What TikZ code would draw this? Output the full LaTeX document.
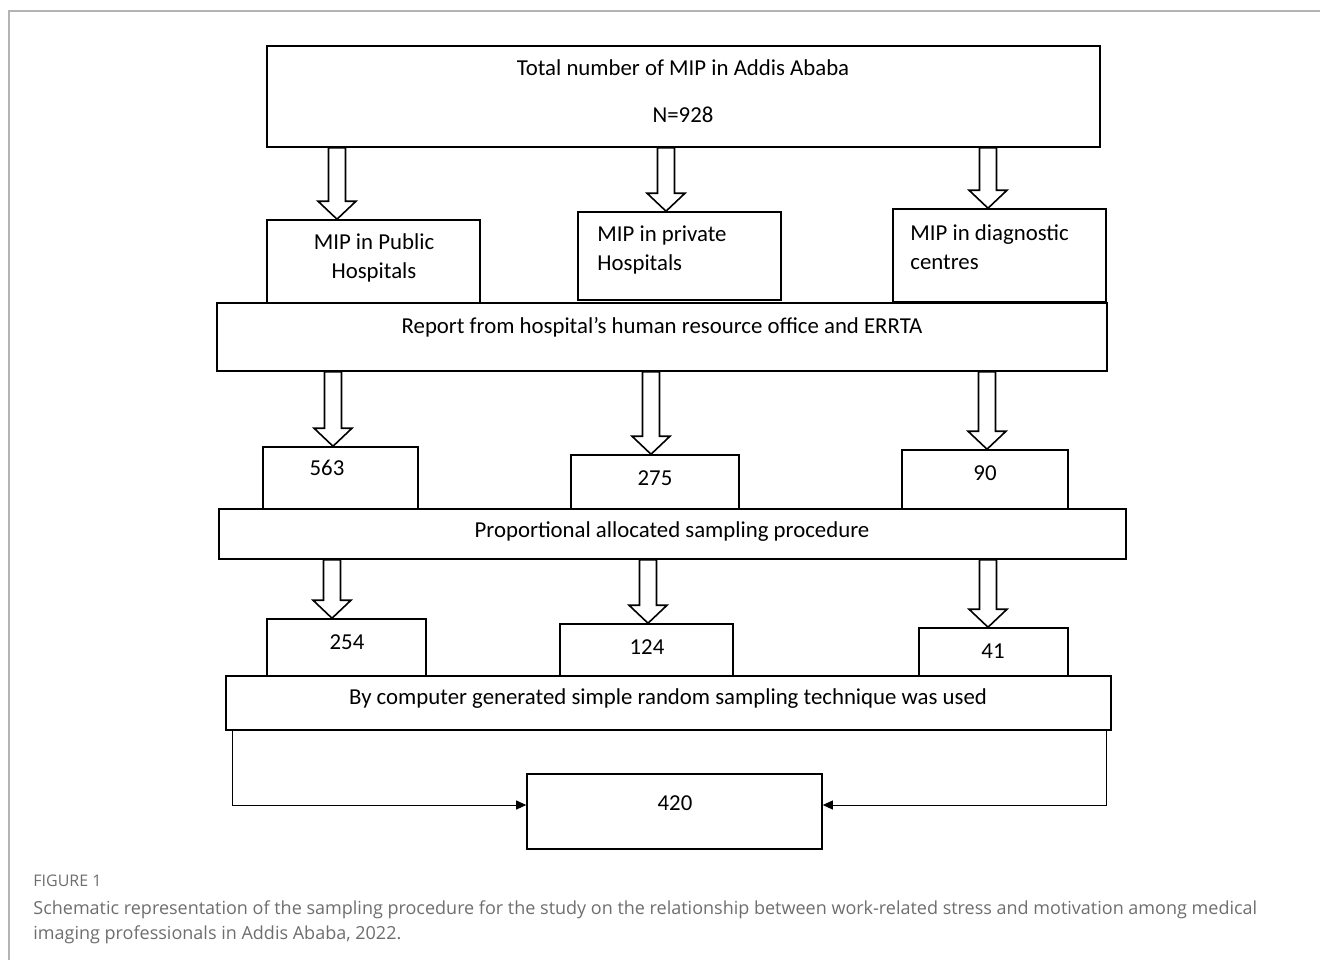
\documentclass[tikz,border=0pt]{standalone}
\usepackage{fontspec}
\setmainfont{Carlito}
\newfontfamily\capfont{Open Sans}
\usetikzlibrary{arrows.meta,calc,fit}

\definecolor{framegray}{HTML}{B4B4B4}
\definecolor{capgray}{HTML}{6E6E6E}

\tikzset{
  box/.style={draw, line width=0.8pt, inner sep=0pt},
  txt/.style={font=\fontsize{11.4}{14.5}\selectfont, inner sep=0pt},
  blockline/.style={draw, line width=0.8pt, line join=miter, fill=white},
  conn/.style={line width=0.45pt, -{Triangle[length=5pt,width=4.5pt]}},
  capnode/.style={font=\capfont\fontsize{9}{12.5}\selectfont, text=capgray, inner sep=0pt, anchor=base west, align=left}
}

% hollow block arrow: x position, from node, to node
\newcommand{\blockarrow}[3]{%
  \coordinate (bax) at (#1,0);
  \draw[blockline] ($(bax |- #2.south)+(-8.5,0)$) -- ($(bax |- #3.north)+(-8.5,-18)$)
    -- ++(-10.5,0) -- (bax |- #3.north) -- ++(19,-18) -- ++(-10.5,0)
    -- ($(bax |- #2.south)+(8.5,0)$) -- cycle;}

\begin{document}
\begin{tikzpicture}[x=0.5pt,y=-0.5pt]
\useasboundingbox (0,0) rectangle (1320,960);
\draw[framegray, line width=0.6pt] (9,960) -- (9,11) -- (1320,11);

% boxes
\node[box, fit={(267,46) (1100,147)}] (total) {};
\node[box, fit={(267,220) (480,303)}] (pub) {};
\node[box, fit={(578,212) (781,300)}] (priv) {};
\node[box, fit={(893,209) (1106,302)}] (diag) {};
\node[box, fit={(217,303) (1107,371)}] (report) {};
\node[box, fit={(263,447) (418,509)}] (b563) {};
\node[box, fit={(571,455) (739,509)}] (b275) {};
\node[box, fit={(902,450) (1068,509)}] (b90) {};
\node[box, fit={(219,509) (1126,559)}] (prop) {};
\node[box, fit={(267,619) (426,676)}] (b254) {};
\node[box, fit={(560,624) (733,676)}] (b124) {};
\node[box, fit={(919,628) (1068,676)}] (b41) {};
\node[box, fit={(226,676) (1111,730)}] (comp) {};
\node[box, fit={(527,774) (822,849)}] (b420) {};

% texts
\node[txt] (ttotal) at (683,68) {Total number of MIP in Addis Ababa};
\node[txt] (tn) at (683,115) {N=928};
\node[txt, align=center] (tpub) at (374,258) {MIP in Public\\Hospitals};
\node[txt, align=left, anchor=west] (tpriv) at (597,250) {MIP in private\\Hospitals};
\node[txt, align=left, anchor=west] (tdiag) at (910,247) {MIP in diagnostic\\centres};
\node[txt] (treport) at (662,327) {Report from hospital’s human resource office and ERRTA};
\node[txt] (t563) at (327,468) {563};
\node[txt] (t275) at (655,478) {275};
\node[txt] (t90) at (985,473) {90};
\node[txt] (tprop) at (672,532) {Proportional allocated sampling procedure};
\node[txt] (t254) at (347,642) {254};
\node[txt] (t124) at (647,647) {124};
\node[txt] (t41) at (993,651) {41};
\node[txt] (tcomp) at (668,699) {By computer generated simple random sampling technique was used};
\node[txt] (t420) at (675,803) {420};

% block arrows
\blockarrow{337}{total}{pub}
\blockarrow{666}{total}{priv}
\blockarrow{988}{total}{diag}
\blockarrow{333}{report}{b563}
\blockarrow{651}{report}{b275}
\blockarrow{987}{report}{b90}
\blockarrow{332}{prop}{b254}
\blockarrow{648}{prop}{b124}
\blockarrow{988}{prop}{b41}

% to the final sample
\coordinate (lx) at (232,0);
\coordinate (rx) at (1106,0);
\draw[conn] (lx |- comp.south) |- ([yshift=3.25pt]b420.west);
\draw[conn] (rx |- comp.south) |- ([yshift=3.25pt]b420.east);

% caption
\node[capnode, font=\capfont\fontsize{8}{12}\selectfont] (figno) at (33,886) {FIGURE 1};
\node[capnode] (caption) at (33,939) {Schematic representation of the sampling procedure for the study on the relationship between work-related stress and motivation among medical\\imaging professionals in Addis Ababa, 2022.};
\end{tikzpicture}
\end{document}
